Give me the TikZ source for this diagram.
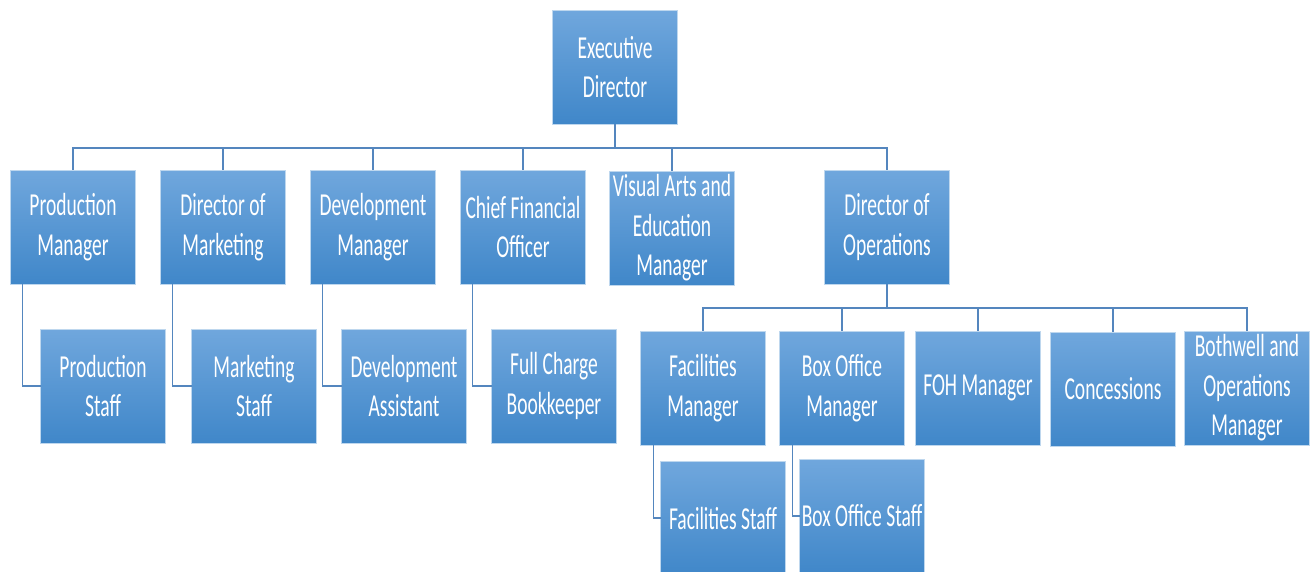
\documentclass[tikz,border=0pt]{standalone}
\usepackage{fontspec}
\setmainfont{Carlito}[FakeStretch=0.61]
\usetikzlibrary{calc}
\definecolor{boxtop}{RGB}{112,167,221}
\definecolor{boxbot}{RGB}{64,135,201}
\definecolor{boxedge}{RGB}{190,215,238}
\definecolor{connc}{RGB}{84,134,190}
\tikzset{
  orgbox/.style={rectangle, top color=boxtop, bottom color=boxbot, draw=boxedge,
    line width=0.9pt, minimum width=125pt, minimum height=114pt, inner sep=0pt,
    outer sep=0pt, text=white, align=center,
    font=\fontsize{32}{39.5}\selectfont},
  conn/.style={draw=connc, line width=1.2pt}
}
% label lowered slightly inside its box
\newcommand{\lbl}[1]{\raisebox{-1.5pt}{\begin{tabular}{@{}c@{}}#1\end{tabular}}}
\begin{document}
\begin{tikzpicture}[x=1pt,y=-1pt]
\useasboundingbox (0,0) rectangle (1311,571);
\begin{scope}
\clip (0,0) rectangle (1311,571);
% top level
\node[orgbox] (ed) at (615,67) {Executive\\Director};
% department heads
\node[orgbox] (pm)   at (73,227)  {Production\\Manager};
\node[orgbox] (dmk)  at (223,227) {Director of\\Marketing};
\node[orgbox] (dvm)  at (373,227) {Development\\Manager};
\node[orgbox] (cfo)  at (523,227) {Chief Financial\\Officer};
\node[orgbox] (va)   at (672,228) {Visual Arts and\\Education\\Manager};
\node[orgbox] (dops) at (887,227) {Director of\\Operations};
% staff under department heads
\node[orgbox] (ps)  at (103,386) {Production\\Staff};
\node[orgbox] (ms)  at (254,386) {Marketing\\Staff};
\node[orgbox] (da)  at (404,386) {Development\\Assistant};
\node[orgbox] (fcb) at (554,386) {Full Charge\\Bookkeeper};
% operations
\node[orgbox] (fm)  at (703,388)  {Facilities\\Manager};
\node[orgbox] (bom) at (842,388)  {Box Office\\Manager};
\node[orgbox] (foh) at (978,388)  {FOH Manager};
\node[orgbox] (con) at (1113,389) {Concessions};
\node[orgbox] (bw)  at (1247,388) {Bothwell and\\Operations\\Manager};
\node[orgbox] (fs)  at (723,518)  {Facilities Staff};
\node[orgbox] (bos) at (862,516)  {Box Office Staff};
\end{scope}
% connectors from the executive director
\foreach \c in {pm,dmk,dvm,cfo,va,dops}
  \draw[conn] (ed.south) -- ++(0,24) -| (\c.north);
% staff connectors
\draw[conn] ([xshift=12pt]pm.south west)  |- (ps.west);
\draw[conn] ([xshift=12pt]dmk.south west) |- (ms.west);
\draw[conn] ([xshift=12pt]dvm.south west) |- (da.west);
\draw[conn] ([xshift=12pt]cfo.south west) |- (fcb.west);
% operations connectors
\foreach \c in {fm,bom,foh,con,bw}
  \draw[conn] (dops.south) -- ++(0,24) -| (\c.north);
\draw[conn] ([xshift=13pt]fm.south west)  |- (fs.west);
\draw[conn] ([xshift=13pt]bom.south west) |- (bos.west);
\end{tikzpicture}
\end{document}
